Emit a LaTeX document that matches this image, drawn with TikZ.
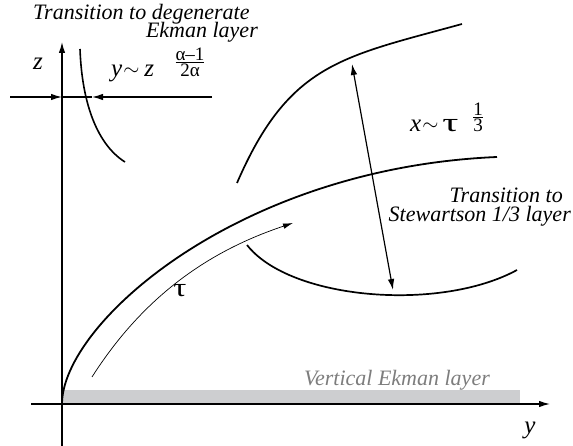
\documentclass[tikz,border=0pt]{standalone}
\usepackage{amsmath}
\usepackage{fontspec}
\setmainfont{Liberation Serif}
\usetikzlibrary{arrows.meta}
\definecolor{bandgrey}{RGB}{205,206,208}
\definecolor{labgrey}{RGB}{125,125,125}
\newcommand{\simsym}{\raisebox{1pt}{\fontsize{22}{22}\selectfont$\sim$}}
\begin{document}
\begin{tikzpicture}[x=1pt,y=-1pt,
  axis/.style={line width=1.2pt},
  thickcurve/.style={line width=1.8pt},
  thincurve/.style={line width=0.7pt},
  tip/.style={-{Latex[length=11pt,width=6.5pt]}},
  smalltip/.style={-{Latex[length=10pt,width=5.5pt]}},
  lab/.style={font=\fontsize{22}{18}\selectfont\itshape, inner sep=0pt},
  mlab/.style={font=\fontsize{25}{25}\selectfont, inner sep=0pt},
  frac/.style={font=\fontsize{19}{19}\selectfont, inner sep=0pt}
]
\useasboundingbox (0,0) rectangle (573,446);
% grey band
\fill[bandgrey] (62,390) rectangle (520,403);
\node[lab, text=labgrey, anchor=base east] (vel) at (490,385) {Vertical Ekman layer};
% axes
\coordinate (zb) at (62,446);
\coordinate (zt) at (62,42);
\coordinate (yl) at (31,404);
\coordinate (yr) at (550,404);
\draw[axis,tip] (zb) -- (zt);
\draw[axis,tip] (yl) -- (yr);
\node[mlab, anchor=center] (zlab) at (38,64) {\textit{z}};
\node[mlab, anchor=center] (ylab) at (530,430) {\textit{y}};
% top-left transition
\coordinate (hl) at (10,97);
\coordinate (ha) at (62,97);
\coordinate (hb) at (92,97);
\coordinate (hr) at (212,97);
\draw[axis] (ha) -- (hb);
\draw[axis,tip] (hl) -- (ha);
\draw[axis,tip] (hr) -- (hb);
\draw[line width=1.6pt] (80,49) .. controls (82,105) and (98,145) .. (125,162);
\node[lab, anchor=base west] (t1) at (33,20) {Transition to degenerate};
\node[lab, anchor=base east] (t2) at (258,38) {Ekman layer};
\node[mlab, anchor=base west] (ysim) at (111,77) {\textit{y}\hspace{1pt}\simsym\hspace{5pt}\textit{z}};
\node[frac] (fr1) at (190,62) {$\genfrac{}{}{0.6pt}{}{\hbox{α–1}}{\hbox{2α}}$};
% main curve
\draw[thickcurve] (62,404) .. controls (62,324) and (237,168) .. (497,157);
% upper curve
\draw[thickcurve, line width=1.7pt] (237,183) .. controls (289,63) and (342,57) .. (462,24);
% lower curve
\draw[thickcurve, line width=1.7pt] (247,245) .. controls (290,300) and (440,312) .. (517,270);
% thin tau arrow
\draw[thincurve,smalltip] (92,377) .. controls (148,289) and (218,248) .. (293,223);
\node[mlab] (tau) at (180,291) {\scalebox{1.3}[1.05]{τ}};
% double arrow
\coordinate (da1) at (352,64);
\coordinate (da2) at (393,290);
\draw[axis,{Latex[length=11pt,width=6.5pt]}-{Latex[length=11pt,width=6.5pt]}] (da1) -- (da2);
\node[mlab, anchor=base west] (xsim) at (410,132) {\textit{x}\hspace{1pt}\simsym\hspace{4pt}\scalebox{1.6}[1.05]{τ}};
\node[frac] (fr2) at (478,117) {$\genfrac{}{}{0.6pt}{}{\hbox{1}}{\hbox{3}}$};
% right labels
\node[lab, anchor=base east] (s1) at (563,203) {Transition to};
\node[lab, anchor=base east] (s2) at (571,222) {Stewartson 1/3 layer};
\end{tikzpicture}
\end{document}
